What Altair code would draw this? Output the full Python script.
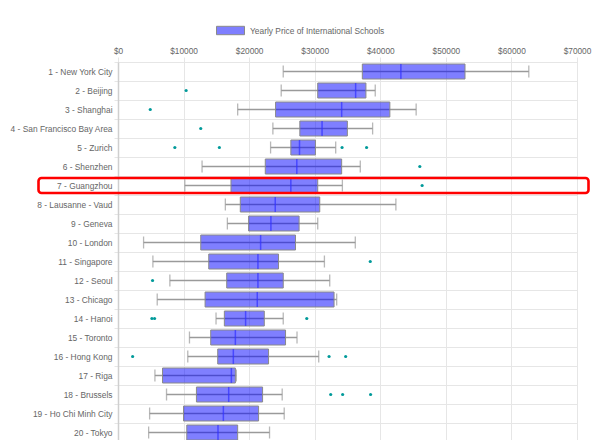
import altair as alt
import pandas as pd

cities = [
    "1 - New York City", "2 - Beijing", "3 - Shanghai", "4 - San Francisco Bay Area",
    "5 - Zurich", "6 - Shenzhen", "7 - Guangzhou", "8 - Lausanne - Vaud",
    "9 - Geneva", "10 - London", "11 - Singapore", "12 - Seoul", "13 - Chicago",
    "14 - Hanoi", "15 - Toronto", "16 - Hong Kong", "17 - Riga", "18 - Brussels",
    "19 - Ho Chi Minh City", "20 - Tokyo",
]
mins = [25200, 24890, 18250, 23620, 23270, 12820, 10190, 16370, 16680, 3900,
        5320, 7910, 5980, 14950, 10900, 10640, 5630, 7400, 4820, 4670]
q1s = [37260, 30460, 24030, 27730, 26360, 22460, 17230, 18650, 19920, 12620,
       13840, 16580, 13280, 16220, 14140, 15210, 6790, 11960, 9990, 10490]
medians = [43140, 36240, 34110, 31120, 27680, 27270, 26360, 23980, 23320, 21750,
           21340, 21340, 21240, 19460, 17900, 17590, 17290, 16880, 16070, 15250]
q3s = [52920, 37810, 41460, 34980, 30110, 34110, 30460, 30770, 27620, 27070,
       24480, 25200, 32950, 22310, 25550, 22960, 17900, 22050, 21440, 18250]
maxs = [62650, 39230, 45470, 38830, 33200, 36950, 34220, 42380, 30460, 36190,
        31480, 32290, 33350, 25200, 27300, 30610, 18050, 25040, 25350, 23110]
outliers = [
    [], [10390], [4920], [12620], [8670, 15460, 34170, 37910], [46030], [46380],
    [], [], [], [38470], [5270], [], [5170, 5580, 28790], [], [2230, 32190, 34720],
    [], [32440, 34260, 38520], [], [],
]
series_name = "Yearly Price of International Schools"
highlight_city = "7 - Guangzhou"
x_ticks = [0, 10000, 20000, 30000, 40000, 50000, 60000, 70000]

FONT = "Liberation Sans"
GRID = "#e6e6e6"
TXT = "#666666"

summary = pd.DataFrame({
    "city": cities, "min": mins, "q1": q1s, "median": medians,
    "q3": q3s, "max": maxs, "series": series_name,
})
outlier_df = pd.DataFrame(
    [{"city": c, "value": v} for c, vals in zip(cities, outliers) for v in vals]
)
highlight_df = pd.DataFrame({"city": [highlight_city]})

y_enc = alt.Y(
    "city:N", sort=cities, title=None,
    scale=alt.Scale(paddingInner=0, paddingOuter=0),
    axis=alt.Axis(
        labelFont=FONT, labelFontSize=8.4, labelColor=TXT, labelPadding=2,
        tickSize=4, tickColor=GRID, tickBand="extent", grid=True, gridColor=GRID,
        domainColor="#cfcfcf", domainWidth=1.5,
    ),
)
x_scale = alt.Scale(domain=[0, 70000], nice=False, zero=False)
x_axis = alt.Axis(
    orient="top", values=x_ticks, labelExpr="'$' + datum.value",
    labelFont=FONT, labelFontSize=8.3, labelColor=TXT, labelPadding=2,
    labelFlush=False, tickSize=5, tickColor=GRID, grid=True, gridColor=GRID,
    domain=False,
)

base = alt.Chart(summary)
yy = alt.Y("city:N", sort=cities)

whisker = base.mark_rule(color="#9a9a9a", strokeWidth=1.3).encode(
    y=y_enc,
    x=alt.X("min:Q", scale=x_scale, axis=x_axis, title=None),
    x2="max:Q",
)
cap_min = base.mark_tick(color="#9a9a9a", thickness=1.3, size=12).encode(
    y=yy, x=alt.X("min:Q", scale=x_scale)
)
cap_max = base.mark_tick(color="#9a9a9a", thickness=1.3, size=12).encode(
    y=yy, x=alt.X("max:Q", scale=x_scale)
)
box = base.mark_bar(size=15, stroke="#8a8a8a", strokeWidth=1).encode(
    y=yy,
    x=alt.X("q1:Q", scale=x_scale),
    x2="q3:Q",
    color=alt.Color(
        "series:N",
        scale=alt.Scale(range=["rgba(0,0,255,0.5)"]),
        legend=alt.Legend(
            title=None, orient="none", legendX=98, legendY=-46, padding=0,
            symbolType="M-1,-0.3L1,-0.3L1,0.3L-1,0.3Z", symbolSize=784,
            symbolStrokeColor="#8a8a8a", symbolStrokeWidth=1,
            labelFont=FONT, labelFontSize=8.4, labelColor=TXT, labelOffset=5,
        ),
    ),
)
median = base.mark_tick(color="#3030ff", thickness=1.5, size=15).encode(
    y=yy, x=alt.X("median:Q", scale=x_scale)
)
points = alt.Chart(outlier_df).mark_circle(color="#009a9a", size=10, opacity=1).encode(
    y=yy, x=alt.X("value:Q", scale=x_scale)
)
highlight = alt.Chart(highlight_df).mark_bar(
    size=15, fill="transparent", stroke="#ff0000", strokeWidth=2.6,
    cornerRadius=3, clip=False,
).encode(
    y=yy,
    x=alt.value(-79.5), x2=alt.value(470.5),
)

chart = alt.layer(whisker, cap_min, cap_max, box, median, points, highlight).properties(
    width=459, height=380,
    autosize=alt.AutoSizeParams(type="none"),
    padding={"left": 110, "top": 54, "right": 15, "bottom": 0},
).configure_view(stroke=None).configure(font=FONT)

chart.save("out.html", embed_options={"renderer": "svg", "actions": False})
